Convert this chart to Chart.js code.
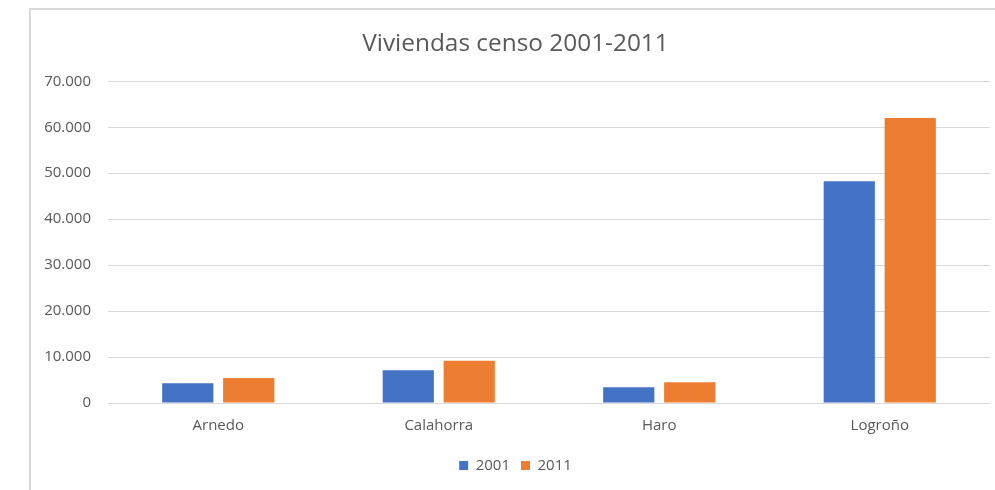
<!DOCTYPE html>
<html>
<head>
<meta charset="utf-8">
<script src="https://cdn.jsdelivr.net/npm/chart.js@4"></script>
<style>
  html, body { margin: 0; padding: 0; background: #fff; overflow: hidden; }
  #frame {
    position: absolute; left: 29px; top: 8px;
    width: 1000px; height: 500px;
    border-left: 2px solid #d9d9d9; border-top: 2px solid #d9d9d9;
  }
  #wrap { position: absolute; left: 0; top: 0; width: 980px; height: 480px; }
</style>
</head>
<body>
<div id="frame"><div id="wrap"><canvas id="myChart"></canvas></div></div>
<script>
// datos del censo
const categorias = ['Arnedo', 'Calahorra', 'Haro', 'Logroño'];
const viviendas2001 = [4300, 7150, 3450, 48250];
const viviendas2011 = [5450, 9200, 4500, 62000];
const ejeY = { min: 0, max: 70000, paso: 10000 };

// formato con punto de miles
function miles(v) {
    return String(v).replace(/\B(?=(\d{3})+(?!\d))/g, '.');
}

const fuente = "'Open Sans', sans-serif";
const gris = '#595959';

const ctx = document.getElementById('myChart').getContext('2d');
const myChart = new Chart(ctx, {
    type: 'bar',
    data: {
        labels: categorias,
        datasets: [{
            label: '2001',
            data: viviendas2001,
            backgroundColor: '#4472C4',
            categoryPercentage: 0.553,
            barPercentage: 0.84
        }, {
            label: '2011',
            data: viviendas2011,
            backgroundColor: '#ED7D31',
            categoryPercentage: 0.553,
            barPercentage: 0.84
        }]
    },
    options: {
        responsive: true,
        maintainAspectRatio: false,
        animation: false,
        layout: { padding: { left: 10, right: 21, top: 0, bottom: 7 } },
        plugins: {
            title: {
                display: true,
                text: 'Viviendas censo 2001-2011',
                color: gris,
                font: { family: fuente, size: 24.4, weight: 'normal' },
                padding: { top: 19, bottom: 23 }
            },
            legend: {
                position: 'bottom',
                labels: {
                    color: gris,
                    font: { family: fuente, size: 15 },
                    boxWidth: 9,
                    boxHeight: 9,
                    padding: 11
                }
            },
            tooltip: { enabled: false }
        },
        scales: {
            x: {
                afterFit: (scale) => { scale.height += 6; },
                grid: { display: false },
                border: { display: false },
                ticks: { color: gris, font: { family: fuente, size: 15 }, padding: 6 }
            },
            y: {
                min: ejeY.min,
                max: ejeY.max,
                afterFit: (scale) => { scale.width = 67; },
                grid: { color: '#d9d9d9', lineWidth: 1, drawTicks: false },
                border: { display: false },
                ticks: {
                    stepSize: ejeY.paso,
                    color: gris,
                    font: { family: fuente, size: 15 },
                    padding: 17,
                    callback: (v) => miles(v)
                }
            }
        }
    }
});
</script>
</body>
</html>
